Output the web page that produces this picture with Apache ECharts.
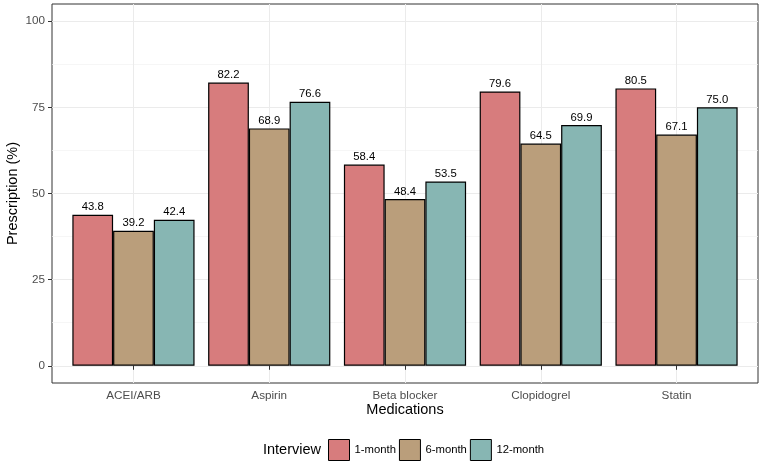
<!DOCTYPE html>
<html>
<head>
<meta charset="utf-8">
<script src="https://cdn.jsdelivr.net/npm/echarts@6/dist/echarts.min.js"></script>
<style>html,body{margin:0;padding:0;background:#fff;}#c{width:763px;height:468px;}</style>
</head>
<body>
<div id="c"></div>
<script>
const categories = ['ACEI/ARB', 'Aspirin', 'Beta blocker', 'Clopidogrel', 'Statin'];
const seriesNames = ['1-month', '6-month', '12-month'];
const month1 = [43.8, 82.2, 58.4, 79.6, 80.5];
const month6 = [39.2, 68.9, 48.4, 64.5, 67.1];
const month12 = [42.4, 76.6, 53.5, 69.9, 75.0];
const yTicks = [0, 25, 50, 75, 100];
const yMinor = [12.5, 37.5, 62.5, 87.5];
const xPositions = [1, 2, 3, 4, 5];
const colors = ['#D77C7D', '#BA9E7B', '#87B6B3'];

const FONT = 'Liberation Sans, Arial, sans-serif';
const chart = echarts.init(document.getElementById('c'), null, {renderer: 'canvas'});
const panelLeft = 52, panelRight = 758, panelTop = 4, panelBottom = 383;
const unit = (panelRight - panelLeft) / 5.2;

function barSeries(name, data, color) {
  return {
    type: 'bar', name: name, data: data, xAxisIndex: 1, yAxisIndex: 2,
    barGap: '0%', barCategoryGap: '10%',
    itemStyle: {color: color, borderColor: '#000', borderWidth: 1.2},
    label: {show: true, position: 'top', distance: 2, color: '#000', fontSize: 11.3, fontFamily: FONT,
      formatter: p => p.value.toFixed(1)},
    z: 3
  };
}

chart.setOption({
  animation: false,
  backgroundColor: '#fff',
  textStyle: {fontFamily: FONT},
  grid: [
    {left: panelLeft, right: 763 - panelRight, top: panelTop, bottom: 468 - panelBottom,
     show: true, borderColor: '#333', borderWidth: 1, backgroundColor: '#fff', containLabel: false},
    {left: panelLeft + 0.1 * unit, right: 763 - panelRight + 0.1 * unit, top: panelTop, bottom: 468 - panelBottom, containLabel: false}
  ],
  xAxis: [
    {type: 'value', gridIndex: 0, min: 0.4, max: 5.6,
     axisLine: {show: false},
     axisTick: {show: true, length: 4, lineStyle: {color: '#333'}, customValues: xPositions},
     axisLabel: {show: true, customValues: xPositions, margin: 7, color: '#4d4d4d', fontSize: 11.7, fontFamily: FONT,
       formatter: v => categories[Math.round(v) - 1] || ''},
     splitLine: {show: true, lineStyle: {color: '#EBEBEB', width: 1}}},
    {type: 'category', gridIndex: 1, data: categories, show: false}
  ],
  yAxis: [
    {type: 'value', gridIndex: 0, min: -5, max: 105,
     axisLine: {show: false},
     axisTick: {show: true, length: 4, lineStyle: {color: '#333'}, customValues: yTicks},
     axisLabel: {show: true, customValues: yTicks, margin: 7, color: '#4d4d4d', fontSize: 11.7, fontFamily: FONT},
     splitLine: {show: true, lineStyle: {color: '#EBEBEB', width: 1}}},
    {type: 'value', gridIndex: 0, min: -5, max: 105,
     axisLine: {show: false},
     axisTick: {show: false, customValues: yMinor},
     axisLabel: {show: false, customValues: yMinor},
     splitLine: {show: true, lineStyle: {color: '#F2F2F2', width: 0.7}}},
    {type: 'value', gridIndex: 1, min: -5, max: 105, show: false, splitLine: {show: false}}
  ],
  legend: {
    data: seriesNames, left: 328, top: 439, orient: 'horizontal', padding: 0,
    itemWidth: 21, itemHeight: 21, itemGap: 3, icon: 'rect',
    itemStyle: {borderColor: '#000', borderWidth: 1},
    textStyle: {fontSize: 11.3, color: '#000', fontFamily: FONT}
  },
  graphic: [
    {type: 'text', x: 263, y: 450, style: {text: 'Interview', fontSize: 14.5, fill: '#000', fontFamily: FONT, verticalAlign: 'middle'}},
    {type: 'text', x: (panelLeft + panelRight) / 2, y: 410,
     style: {text: 'Medications', fontSize: 14.5, fill: '#000', fontFamily: FONT, align: 'center', verticalAlign: 'middle'}},
    {type: 'text', x: 13, y: (panelTop + panelBottom) / 2, rotation: Math.PI / 2,
     style: {text: 'Prescription (%)', fontSize: 14.5, fill: '#000', fontFamily: FONT, align: 'center', verticalAlign: 'middle'}}
  ],
  series: [
    barSeries(seriesNames[0], month1, colors[0]),
    barSeries(seriesNames[1], month6, colors[1]),
    barSeries(seriesNames[2], month12, colors[2])
  ]
});
</script>
</body>
</html>
